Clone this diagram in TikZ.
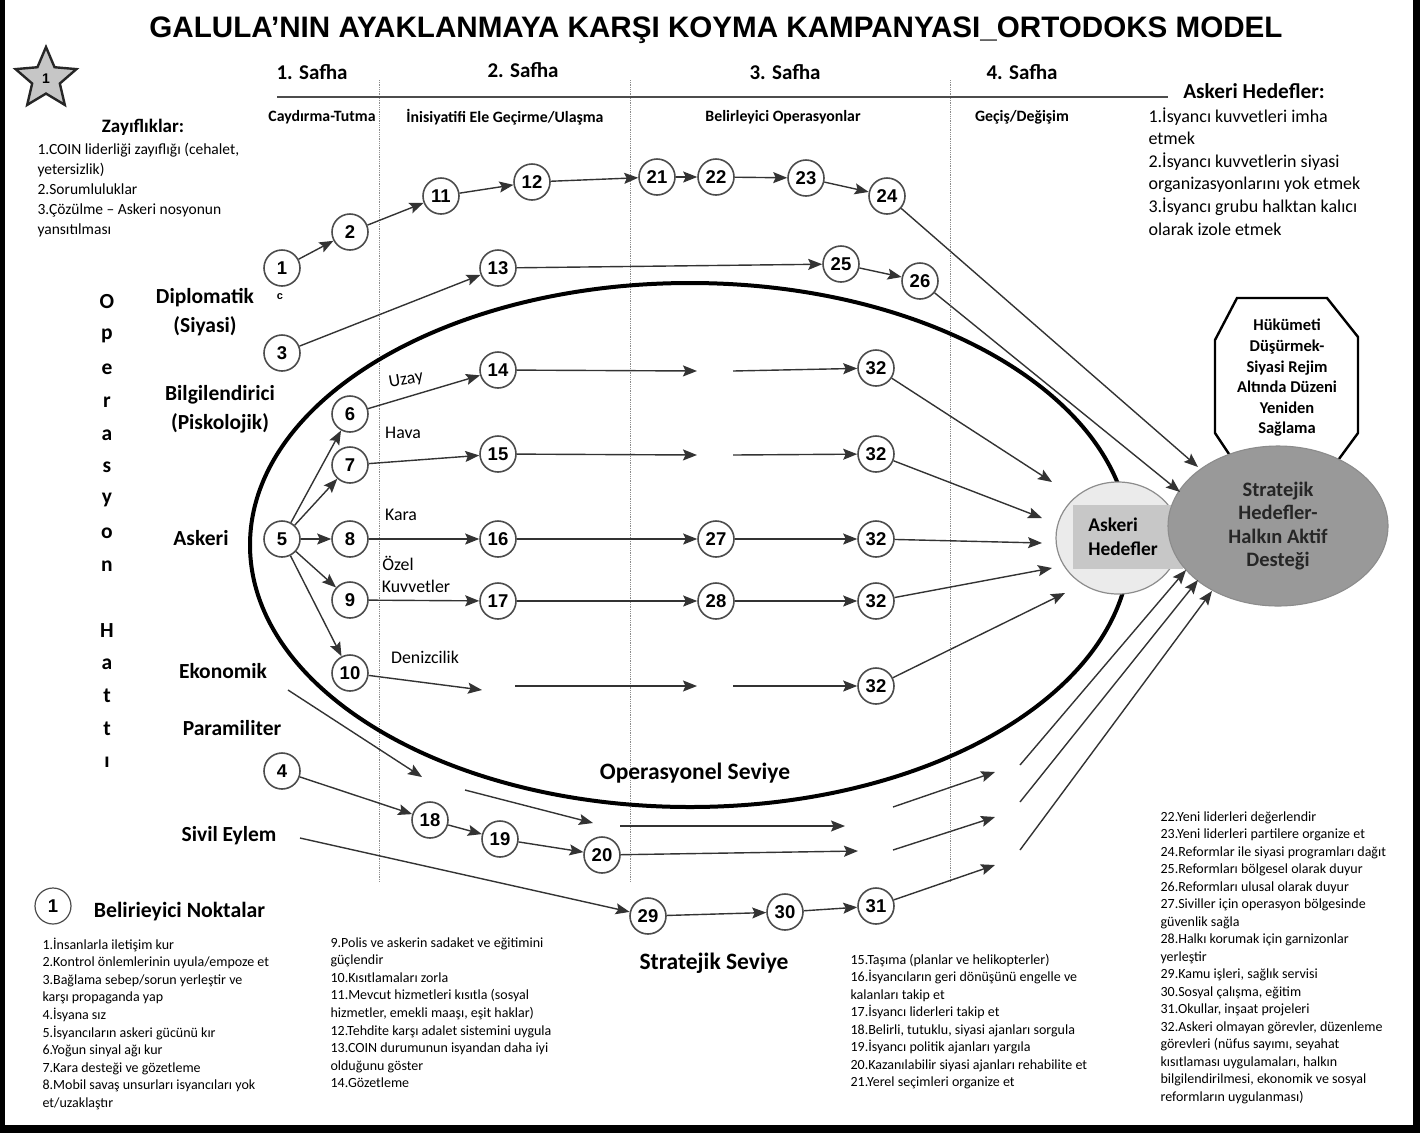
\documentclass[tikz,border=0pt]{standalone}
\usepackage{fontspec}
\setmainfont{Carlito}
\newfontfamily\headfont{Liberation Sans}
\usetikzlibrary{arrows.meta,shapes.geometric}

\begin{document}
\begin{tikzpicture}[
  x=1pt,y=-1pt,
  line width=1.1pt,
  >={Stealth[length=14pt,width=11pt,inset=2.5pt]},
  % numbered decisive points
  num/.style={circle,draw=black!70,line width=1.6pt,fill=white,minimum size=36pt,
              inner sep=0pt,font=\headfont\bfseries\fontsize{18.5}{18.5}\selectfont},
  % a step along a line of operation
  link/.style={->,draw=black!80,line width=1.4pt},
  sep/.style={draw=black!45,line width=0.8pt,densely dotted},
  phase/.style={font=\bfseries\fontsize{21}{21}\selectfont},
  subph/.style={font=\bfseries\fontsize{15.8}{15.8}\selectfont},
  lop/.style={font=\bfseries\fontsize{21.5}{21.5}\selectfont},
  lbl/.style={font=\fontsize{17.8}{17.8}\selectfont},
  lvl/.style={font=\bfseries\fontsize{23.5}{23.5}\selectfont},
  lst/.style={anchor=base west,inner sep=0pt,font=\fontsize{14}{14}\selectfont},
]

\useasboundingbox (0,0) rectangle (1420,1133);

%--- frame --------------------------------------------------------------------
\fill (0,0) rectangle (5,1133);
\fill (1413,0) rectangle (1420,1133);
\fill (0,1125) rectangle (1420,1133);

%--- title --------------------------------------------------------------------
\node[font=\headfont\bfseries\fontsize{29.6}{29.6}\selectfont] (title) at (716,30)
  {GALULA’NIN AYAKLANMAYA KARŞI KOYMA KAMPANYASI\_ORTODOKS MODEL};

%--- phases -------------------------------------------------------------------
\def\xsepA{379}       % end of phase 1
\def\xsepB{630}       % end of phase 2
\def\xsepC{950}       % end of phase 3
\foreach \x in {\xsepA,\xsepB,\xsepC}
  \draw[sep] (\x,80) -- (\x,882);
\draw[black!70,line width=2.2pt] (277,97) -- (1168,97);

\node[phase] (ph1) at (312,72) {1. Safha};
\node[phase] (ph2) at (523,70) {2. Safha};
\node[phase] (ph3) at (785,72) {3. Safha};
\node[phase] (ph4) at (1022,72) {4. Safha};

\node[subph] (sb1) at (322,117) {Caydırma-Tutma};
\node[subph] (sb2) at (505,117) {İnisiyatifi Ele Geçirme/Ulaşma};
\node[subph] (sb3) at (783,117) {Belirleyici Operasyonlar};
\node[subph] (sb4) at (1022,117) {Geçiş/Değişim};

%--- star and weaknesses ------------------------------------------------------
\node[star,star points=5,star point ratio=2.2,minimum size=64pt,inner sep=0pt,
      fill=gray!45,draw=black!85,line width=2.4pt,
      font=\headfont\bfseries\fontsize{14}{14}\selectfont] (star) at (46,79) {1};

\node[font=\bfseries\fontsize{19}{19}\selectfont] (zayif) at (143,127) {Zayıflıklar:};
\foreach \t [count=\i] in {{1.COIN liderliği zayıflığı (cehalet,},{yetersizlik)},
    {2.Sorumluluklar},{3.Çözülme – Askeri nosyonun},{yansıtılması}}
  \node[lst,font=\fontsize{15.5}{15.5}\selectfont] (zl\i) at (37,{154+20*(\i-1)}) {\t};

%--- military objectives ------------------------------------------------------
\node[font=\bfseries\fontsize{21.3}{21.3}\selectfont] (askh) at (1254,91) {Askeri Hedefler:};
\foreach \t [count=\i] in {{1.İsyancı kuvvetleri imha},{etmek},{2.İsyancı kuvvetlerin siyasi},
    {organizasyonlarını yok etmek},{3.İsyancı grubu halktan kalıcı},{olarak izole etmek}}
  \node[lst,font=\fontsize{18}{18}\selectfont] (al\i) at (1148,{122+22.6*(\i-1)}) {\t};

%--- line of operation (vertical) and its rows --------------------------------
\foreach \ch/\yy [count=\k] in {O/302,p/336,e/369,r/402,a/435,s/467,y/500,o/533,n/566,
    H/631,a/664,t/696,t/729,ı/762}
  \node[lop] (ol\k) at (107,\yy) {\ch};

\node[lop] (dip1) at (205,298) {Diplomatik};
\node[lop] (dip2) at (205,326) {(Siyasi)};
\node[lop] (bil1) at (220,395) {Bilgilendirici};
\node[lop] (bil2) at (220,423) {(Piskolojik)};
\node[lop] (ask)  at (201,538) {Askeri};
\node[lop] (eko)  at (223,671) {Ekonomik};
\node[lop] (par)  at (232,728) {Paramiliter};
\node[lop] (siv)  at (229,836) {Sivil Eylem};
\node[font=\headfont\bfseries\fontsize{11}{11}\selectfont] (cmark) at (280,297) {c};

%--- operational level ellipse ------------------------------------------------
\draw[line width=4pt] (690,545) ellipse [x radius=440, y radius=262];

\node[lbl,rotate=10] (uzay) at (406,380) {Uzay};
\node[lbl] (hava) at (403,433) {Hava};
\node[lbl] (kara) at (401,515) {Kara};
\node[lbl] (ozel) at (398,563) {Özel};
\node[lbl] (kuvv) at (416,586) {Kuvvetler};
\node[lbl] (deniz) at (425,657) {Denizcilik};

\node[lvl] (opsev) at (695,773) {Operasyonel Seviye};
\node[lvl] (strsev) at (714,963) {Stratejik Seviye};

%--- objectives ---------------------------------------------------------------
\draw[line width=2.4pt,fill=white] (1237,298) -- (1327,298) -- (1358,337) -- (1358,433)
  -- (1325,478) -- (1245,478) -- (1215,433) -- (1215,340) -- cycle;
\node[align=center,font=\bfseries\fontsize{16.5}{20.6}\selectfont] (octtxt) at (1287,378)
  {Hükümeti\\Düşürmek-\\Siyasi Rejim\\Altında Düzeni\\Yeniden\\Sağlama};

\node[ellipse,minimum width=124pt,minimum height=112pt,fill=black!8,draw=black!45,
      line width=1.2pt] (askeri) at (1118,538) {};
\fill[black!22] (1073,505) rectangle (1183,569);
\node[align=left,font=\bfseries\fontsize{19.4}{24}\selectfont] (asktxt) at (1123,537)
  {Askeri\\Hedefler};

\node[ellipse,minimum width=220pt,minimum height=160pt,fill=black!40,draw=black!45,
      align=center,text=black!85,font=\bfseries\fontsize{20.5}{23.5}\selectfont]
  (strat) at (1278,526) {Stratejik\\Hedefler-\\Halkın Aktif\\Desteği};

%--- decisive points ----------------------------------------------------------
\node[num] (n1)  at (282,268) {1};
\node[num] (n2)  at (350,232) {2};
\node[num] (n3)  at (282,353) {3};
\node[num] (n4)  at (282,771) {4};
\node[num] (n5)  at (282,539) {5};
\node[num] (n6)  at (350,414) {6};
\node[num] (n7)  at (350,465) {7};
\node[num] (n8)  at (350,539) {8};
\node[num] (n9)  at (350,600) {9};
\node[num] (n10) at (350,673) {10};
\node[num] (n11) at (441,196) {11};
\node[num] (n12) at (532,182) {12};
\node[num] (n13) at (498,268) {13};
\node[num] (n14) at (498,370) {14};
\node[num] (n15) at (498,454) {15};
\node[num] (n16) at (498,539) {16};
\node[num] (n17) at (498,601) {17};
\node[num] (n18) at (430,820) {18};
\node[num] (n19) at (500,839) {19};
\node[num] (n20) at (602,855) {20};
\node[num] (n21) at (657,177) {21};
\node[num] (n22) at (716,177) {22};
\node[num] (n23) at (806,178) {23};
\node[num] (n24) at (887,196) {24};
\node[num] (n25) at (841,264) {25};
\node[num] (n26) at (920,281) {26};
\node[num] (n27) at (716,539) {27};
\node[num] (n28) at (716,601) {28};
\node[num] (n29) at (648,916) {29};
\node[num] (n30) at (785,912) {30};
\node[num] (n31) at (876,906) {31};
\node[num] (n32a) at (876,368) {32};
\node[num] (n32b) at (876,454) {32};
\node[num] (n32c) at (876,539) {32};
\node[num] (n32d) at (876,601) {32};
\node[num] (n32e) at (876,686) {32};

%--- free ends of the broken lines --------------------------------------------
\coordinate (ga1) at (697,371);  \coordinate (gb1) at (733,371);
\coordinate (ga2) at (697,455);  \coordinate (gb2) at (733,455);
\coordinate (e10) at (482,690);
\coordinate (ga5) at (515,686);  \coordinate (gb5) at (697,686);  \coordinate (gc5) at (733,686);
\coordinate (h1) at (1052,482);  \coordinate (h2) at (1042,518);  \coordinate (h3) at (1042,543);
\coordinate (h4) at (1052,568);  \coordinate (h5) at (1065,593);
\coordinate (s1) at (1198,467);  \coordinate (s2) at (1180,492);
\coordinate (s3) at (1186,570);  \coordinate (s4) at (1198,580);  \coordinate (s5) at (1212,591);
\coordinate (ek0) at (288,690);  \coordinate (ek1) at (422,777);
\coordinate (ek2) at (465,790);  \coordinate (ek3) at (593,823);
\coordinate (ek4) at (620,826);  \coordinate (ek5) at (845,826);
\coordinate (ek6) at (893,807);  \coordinate (ek7) at (995,772);
\coordinate (pm1) at (858,851);  \coordinate (pm2) at (893,850);  \coordinate (pm3) at (995,817);
\coordinate (sv0) at (300,838);  \coordinate (sv1) at (995,865);
\coordinate (k1) at (1020,765);  \coordinate (k2) at (1020,802);  \coordinate (k3) at (1020,850);

%--- connectors ---------------------------------------------------------------
% diplomatic (political)
\foreach \a/\b in {n1/n2,n2/n11,n11/n12,n12/n21,n21/n22,n22/n23,n23/n24,n24/s1,
                   n3/n13,n13/n25,n25/n26,n26/s2}
  \draw[link] (\a) -- (\b);
% military fan
\foreach \b in {n6,n7,n8,n9,n10}
  \draw[link] (n5) -- (\b);
\foreach \a/\b in {n6/n14,n7/n15,n8/n16,n9/n17,n10/e10,
                   n14/ga1,gb1/n32a,n15/ga2,gb2/n32b,n16/n27,n27/n32c,n17/n28,n28/n32d,
                   ga5/gb5,gc5/n32e,
                   n32a/h1,n32b/h2,n32c/h3,n32d/h4,n32e/h5}
  \draw[link] (\a) -- (\b);
% economic, paramilitary, civil action
\foreach \a/\b in {ek0/ek1,ek2/ek3,ek4/ek5,ek6/ek7,k1/s3,
                   n4/n18,n18/n19,n19/n20,n20/pm1,pm2/pm3,k2/s4,
                   sv0/n29,n29/n30,n30/n31,n31/sv1,k3/s5}
  \draw[link] (\a) -- (\b);

%--- legend and notes ---------------------------------------------------------
\node[num,line width=1.2pt] (leg) at (53,906) {1};
\node[anchor=west,font=\bfseries\fontsize{21.8}{21.8}\selectfont] (legtxt) at (90,912)
  {Belirieyici Noktalar};

\foreach \t [count=\i] in {{1.İnsanlarla iletişim kur},{2.Kontrol önlemlerinin uyula/empoze et},
    {3.Bağlama sebep/sorun yerleştir ve},{karşı propaganda yap},{4.İsyana sız},
    {5.İsyancıların askeri gücünü kır},{6.Yoğun sinyal ağı kur},{7.Kara desteği ve gözetleme},
    {8.Mobil savaş unsurları isyancıları yok},{et/uzaklaştır}}
  \node[lst] (la\i) at (42,{949+17.6*(\i-1)}) {\t};

\foreach \t [count=\i] in {{9.Polis ve askerin sadaket ve eğitimini},{güçlendir},
    {10.Kısıtlamaları zorla},{11.Mevcut hizmetleri kısıtla (sosyal},
    {hizmetler, emekli maaşı, eşit haklar)},{12.Tehdite karşı adalet sistemini uygula},
    {13.COIN durumunun isyandan daha iyi},{olduğunu göster},{14.Gözetleme}}
  \node[lst] (lb\i) at (330,{947+17.6*(\i-1)}) {\t};

\foreach \t [count=\i] in {{15.Taşıma (planlar ve helikopterler)},
    {16.İsyancıların geri dönüşünü engelle ve},{kalanları takip et},
    {17.İsyancı liderleri takip et},{18.Belirli, tutuklu, siyasi ajanları sorgula},
    {19.İsyancı politik ajanları yargıla},{20.Kazanılabilir siyasi ajanları rehabilite et},
    {21.Yerel seçimleri organize et}}
  \node[lst] (lc\i) at (850,{964+17.5*(\i-1)}) {\t};

\foreach \t [count=\i] in {{22.Yeni liderleri değerlendir},{23.Yeni liderleri partilere organize et},
    {24.Reformlar ile siyasi programları dağıt},{25.Reformları bölgesel olarak duyur},
    {26.Reformları ulusal olarak duyur},{27.Siviller için operasyon bölgesinde},
    {güvenlik sağla},{28.Halkı korumak için garnizonlar},{yerleştir},
    {29.Kamu işleri, sağlık servisi},{30.Sosyal çalışma, eğitim},{31.Okullar, inşaat projeleri},
    {32.Askeri olmayan görevler, düzenleme},{görevleri (nüfus sayımı, seyahat},
    {kısıtlaması uygulamaları, halkın},{bilgilendirilmesi, ekonomik ve sosyal},
    {reformların uygulanması)}}
  \node[lst] (ld\i) at (1160,{821+17.5*(\i-1)}) {\t};

\end{tikzpicture}
\end{document}
